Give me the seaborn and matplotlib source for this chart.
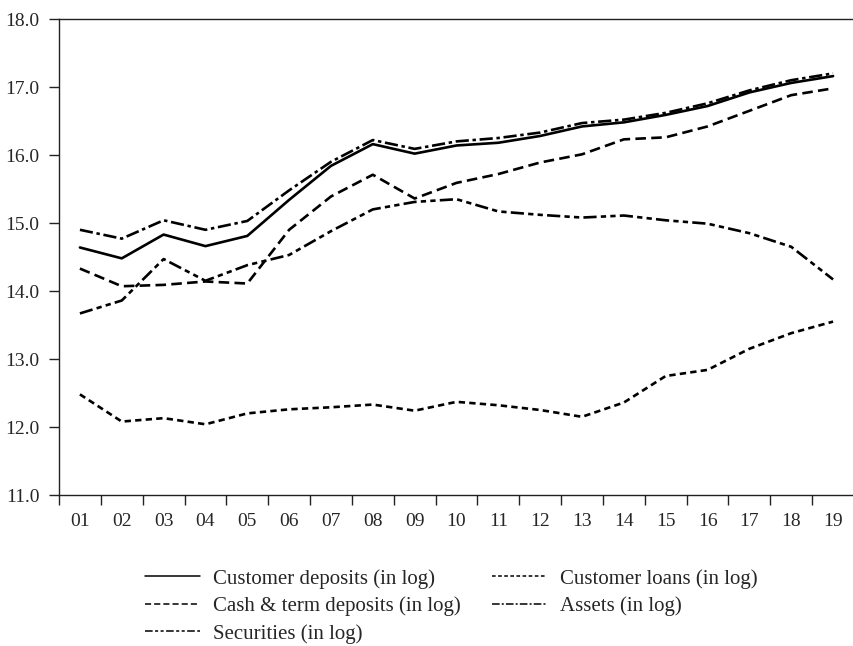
import matplotlib
matplotlib.use('Agg')
import matplotlib.pyplot as plt
import seaborn as sns
import pandas as pd
import numpy as np

# Годы (подписи оси X) и ряды в логарифмах
years = ['01', '02', '03', '04', '05', '06', '07', '08', '09', '10',
         '11', '12', '13', '14', '15', '16', '17', '18', '19']

customer_deposits = [14.64, 14.48, 14.83, 14.66, 14.81, 15.34, 15.84, 16.16, 16.02, 16.14,
                     16.18, 16.28, 16.42, 16.48, 16.59, 16.72, 16.92, 17.06, 17.16]
customer_loans = [12.48, 12.08, 12.13, 12.04, 12.20, 12.26, 12.29, 12.33, 12.24, 12.37,
                  12.32, 12.25, 12.15, 12.36, 12.75, 12.84, 13.15, 13.38, 13.55]
cash_term_deposits = [14.33, 14.07, 14.09, 14.14, 14.11, 14.90, 15.39, 15.71, 15.36, 15.59,
                      15.72, 15.89, 16.01, 16.23, 16.26, 16.42, 16.65, 16.88, 16.98]
assets = [14.90, 14.77, 15.04, 14.90, 15.03, 15.48, 15.90, 16.22, 16.09, 16.20,
          16.25, 16.33, 16.47, 16.52, 16.62, 16.76, 16.95, 17.10, 17.20]
securities = [13.67, 13.86, 14.47, 14.15, 14.38, 14.53, 14.88, 15.20, 15.31, 15.35,
              15.17, 15.12, 15.08, 15.11, 15.04, 14.99, 14.85, 14.65, 14.17]

series = {
    'Customer deposits (in log)': customer_deposits,
    'Cash & term deposits (in log)': cash_term_deposits,
    'Securities (in log)': securities,
    'Customer loans (in log)': customer_loans,
    'Assets (in log)': assets,
}

# Длинный формат для seaborn
rows = []
for name, vals in series.items():
    for i, v in enumerate(vals):
        rows.append({'x': i + 1, 'value': v, 'series': name})
df = pd.DataFrame(rows)

dashes = {
    'Customer deposits (in log)': '',
    'Cash & term deposits (in log)': (4, 2),
    'Securities (in log)': (5, 1.6, 2, 1.6, 2, 1.6),
    'Customer loans (in log)': (2.4, 1.6),
    'Assets (in log)': (5, 1.4, 1.3, 1.4),
}
palette = {k: 'black' for k in series}

sns.set_style('ticks')
plt.rcParams['font.family'] = ['Liberation Serif', 'DejaVu Serif']

fig = plt.figure(figsize=(8.54, 6.46), dpi=100)
ax = fig.add_axes([59 / 854, 1 - 495 / 646, 1 - 59 / 854, (495 - 19) / 646])

sns.lineplot(data=df, x='x', y='value', hue='series', style='series',
             hue_order=list(series), style_order=list(series),
             palette=palette, dashes=dashes, linewidth=1.9, ax=ax, legend='auto')

leg = ax.get_legend()
handles = list(leg.legend_handles)
labels = [t.get_text() for t in leg.get_texts()]
leg.remove()
for h in handles:
    h.set_linewidth(1.1)

ax.set_xlim(0.5, 19.5)
ax.set_ylim(11, 18)
ax.set_xlabel('')
ax.set_ylabel('')

ax.set_yticks(np.arange(11, 18.5, 1))
ax.set_yticklabels([f'{v:.1f}' for v in np.arange(11, 18.5, 1)])
ax.set_xticks(range(1, 20))
ax.set_xticklabels(years)
ax.set_xticks(np.arange(0.5, 20, 1), minor=True)
ax.tick_params(axis='x', which='major', length=0, pad=13, labelsize=14)
ax.tick_params(axis='x', which='minor', length=7, width=1, color='#222222')
ax.tick_params(axis='y', length=7, width=1, pad=7, labelsize=14, color='#222222')

for s in ['left', 'top', 'bottom']:
    ax.spines[s].set_color('#222222')
    ax.spines[s].set_linewidth(1)
ax.spines['right'].set_visible(False)

fig.legend(handles, labels, ncol=2, frameon=False, loc='upper left',
           bbox_to_anchor=(145 / 854, 1 - 569 / 646), fontsize=15,
           handlelength=2.65, handletextpad=0.62, columnspacing=1.5,
           labelspacing=0.37, borderpad=0, borderaxespad=0)

fig.savefig('out.png', dpi=100)
